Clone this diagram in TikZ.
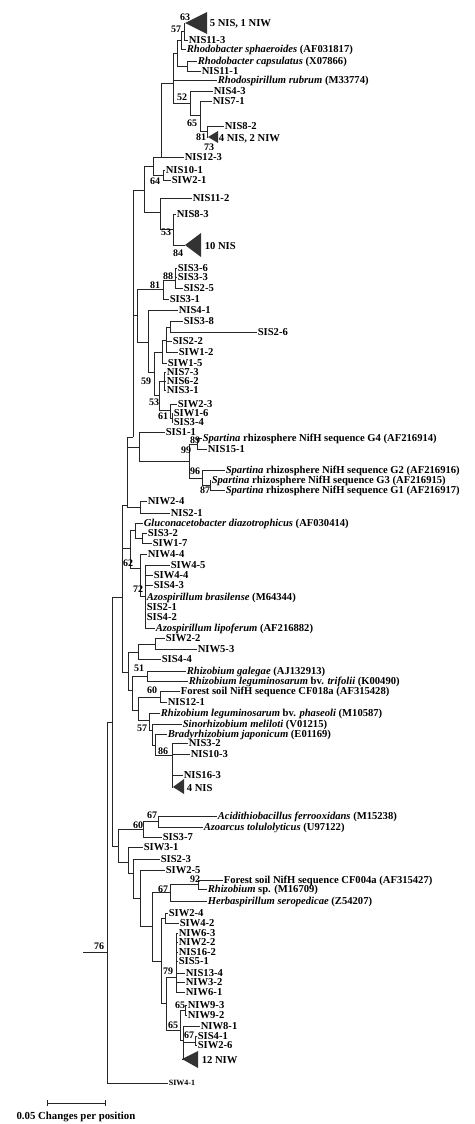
\documentclass[tikz,border=0pt]{standalone}
\usepackage{fontspec}
\setmainfont{Liberation Serif}
\begin{document}
\begin{tikzpicture}[x=1pt,y=-1pt,
 br/.style={draw=black!85, line width=0.75pt},
 lf/.style={anchor=west, inner sep=0.6pt, font=\fontsize{10.6}{11}\selectfont\bfseries, text height=7pt, text depth=0pt},
 bs/.style={inner sep=0pt, font=\fontsize{10}{10}\selectfont\bfseries},
 tri/.style={fill=black!80}]
\fill[white] (0,0) rectangle (474,1124);
\useasboundingbox (0,0) rectangle (474,1124);
% internal nodes
\foreach \n/\x/\y in {n57/184/31, nRS/181/40, nRC/187/66, nV/177/53, nW/173/83, n52/190/103, n65/200/115, n81/207/131,
 nY/161/157, n64/163/175, nAA/153/166, n53/173/229, nBB/160/212, nCC/144/190, n88/175/280, n81b/163/289,
 nHH/170/327, nGG/166/340, nFF/162/352, nII/164/381, n61/172/418, n53b/170/410, nJJ/159/395, nEE/154/372,
 n59/148/342, nDD/137/315, nT/133/437, n89/197/444, n87/210/485, n96/202/478, n99/189/461, nKK/139/447,
 nMM/140/507, nJ/127/505, nNN/142/538, nOO/135/530, n72/145/596, nPP/140/568, n62/130/548, nSW2/155/644,
 nM/138/652, n51/147/676, n60/160/697, n86/172/755, nR/155/745, nQ/152/730, nP/149/720, nO/138/710,
 nN/132/690, nL/128/672, nI/122/597, nA/112/722, n67a/158/821, n60b/143/829, n92/198/884, n67b/170/892,
 nSW24/165/918, n79/176/977, n65a/185/1010, n67c/195/1042, nX/183/1040, n65b/180/1030, nH/166/1003,
 nG/161/961, nF/152/926, nE/140/898, nD/133/873, nC/128/862, nB/118/846, nRoot/107/952, rootend/83/952,
 t5/185/23, t42/208/137, t10/185/245, t4/173/787, t12/182/1059}
 {\coordinate (\n) at (\x,\y);}
% triangles
\fill[tri] (t5) -- (207,12) -- (207,34) -- cycle;
\fill[tri] (t42) -- (218,131) -- (218,143) -- cycle;
\fill[tri] (t10) -- (201,233) -- (201,257) -- cycle;
\fill[tri] (t4) -- (184,779) -- (184,794) -- cycle;
\fill[tri] (t12) -- (198,1051) -- (198,1068) -- cycle;
% leaves
\node[lf] (T5) at (209,23) {5 NIS, 1 NIW};
\node[lf] (L2) at (188,40) {NIS11-3};
\node[lf] (L3) at (186,49) {\textit{Rhodobacter sphaeroides} (AF031817)};
\node[lf] (L4) at (197,61) {\textit{Rhodobacter capsulatus} (X07866)};
\node[lf] (L5) at (201,71) {NIS11-1};
\node[lf] (L6) at (217,80) {\textit{Rhodospirillum rubrum} (M33774)};
\node[lf] (L7) at (213,91) {NIS4-3};
\node[lf] (L8) at (212,101) {NIS7-1};
\node[lf] (L9) at (224,126) {NIS8-2};
\node[lf] (T42) at (218,138) {4 NIS, 2 NIW};
\node[lf] (L11) at (184,157) {NIS12-3};
\node[lf] (L12) at (165,170) {NIS10-1};
\node[lf] (L13) at (171,180) {SIW2-1};
\node[lf] (L14) at (192,198) {NIS11-2};
\node[lf] (L15) at (176,214) {NIS8-3};
\node[lf] (T10) at (204,246) {10 NIS};
\node[lf] (L17) at (177,268) {SIS3-6};
\node[lf] (L18) at (177,277) {SIS3-3};
\node[lf] (L19) at (183,288) {SIS2-5};
\node[lf] (L20) at (169,299) {SIS3-1};
\node[lf] (L21) at (178,310) {NIS4-1};
\node[lf] (L22) at (183,321) {SIS3-8};
\node[lf] (L23) at (257,332) {SIS2-6};
\node[lf] (L24) at (172,341) {SIS2-2};
\node[lf] (L25) at (178,352) {SIW1-2};
\node[lf] (L26) at (167,363) {SIW1-5};
\node[lf] (L27) at (166,372) {NIS7-3};
\node[lf] (L28) at (166,381) {NIS6-2};
\node[lf] (L29) at (166,390) {NIS3-1};
\node[lf] (L30) at (177,404) {SIW2-3};
\node[lf] (L31) at (173,413) {SIW1-6};
\node[lf] (L32) at (173,422) {SIS3-4};
\node[lf] (L33) at (165,432) {SIS1-1};
\node[lf] (L34) at (202,438) {\textit{Spartina} rhizosphere NifH sequence G4 (AF216914)};
\node[lf] (L35) at (207,449) {NIS15-1};
\node[lf] (L36) at (225,470) {\textit{Spartina} rhizosphere NifH sequence G2 (AF216916)};
\node[lf] (L37) at (211,480) {\textit{Spartina} rhizosphere NifH sequence G3 (AF216915)};
\node[lf] (L38) at (225,490) {\textit{Spartina} rhizosphere NifH sequence G1 (AF216917)};
\node[lf] (L39) at (147,501) {NIW2-4};
\node[lf] (L40) at (170,513) {NIS2-1};
\node[lf] (L41) at (143,523) {\textit{Gluconacetobacter diazotrophicus} (AF030414)};
\node[lf] (L42) at (147,533) {SIS3-2};
\node[lf] (L43) at (152,543) {SIW1-7};
\node[lf] (L44) at (147,554) {NIW4-4};
\node[lf] (L45) at (170,565) {SIW4-5};
\node[lf] (L46) at (153,575) {SIW4-4};
\node[lf] (L47) at (153,585) {SIS4-3};
\node[lf] (L48) at (146,597) {\textit{Azospirillum brasilense} (M64344)};
\node[lf] (L49) at (146,607) {SIS2-1};
\node[lf] (L50) at (146,617) {SIS4-2};
\node[lf] (L51) at (155,628) {\textit{Azospirillum lipoferum} (AF216882)};
\node[lf] (L52) at (165,638) {SIW2-2};
\node[lf] (L53) at (197,649) {NIW5-3};
\node[lf] (L54) at (161,659) {SIS4-4};
\node[lf] (L55) at (186,671) {\textit{Rhizobium galegae} (AJ132913)};
\node[lf] (L56) at (188,681) {\textit{Rhizobium leguminosarum} bv. \textit{trifolii} (K00490)};
\node[lf] (L57) at (180,691) {Forest soil NifH sequence CF018a (AF315428)};
\node[lf] (L58) at (167,702) {NIS12-1};
\node[lf] (L59) at (160,713) {\textit{Rhizobium leguminosarum} bv. \textit{phaseoli} (M10587)};
\node[lf] (L60) at (182,724) {\textit{Sinorhizobium meliloti} (V01215)};
\node[lf] (L61) at (167,734) {\textit{Bradyrhizobium japonicum} (E01169)};
\node[lf] (L62) at (188,743) {NIS3-2};
\node[lf] (L63) at (190,754) {NIS10-3};
\node[lf] (L64) at (183,775) {NIS16-3};
\node[lf] (T4) at (186,788) {4 NIS};
\node[lf] (L66) at (217,816) {\textit{Acidithiobacillus ferrooxidans} (M15238)};
\node[lf] (L67) at (203,827) {\textit{Azoarcus tolulolyticus} (U97122)};
\node[lf] (L68) at (162,837) {SIS3-7};
\node[lf] (L69) at (143,847) {SIW3-1};
\node[lf] (L70) at (160,859) {SIS2-3};
\node[lf] (L71) at (165,870) {SIW2-5};
\node[lf] (L72) at (223,880) {Forest soil NifH sequence CF004a (AF315427)};
\node[lf] (L73) at (207,889) {\textit{Rhizobium} sp. (M16709)};
\node[lf] (L74) at (207,901) {\textit{Herbaspirillum seropedicae} (Z54207)};
\node[lf] (L75) at (168,913) {SIW2-4};
\node[lf] (L76) at (179,923) {SIW4-2};
\node[lf] (L77) at (178,933) {NIW6-3};
\node[lf] (L78) at (178,942) {NIW2-2};
\node[lf] (L79) at (178,952) {NIS16-2};
\node[lf] (L80) at (178,961) {SIS5-1};
\node[lf] (L81) at (185,973) {NIS13-4};
\node[lf] (L82) at (185,982) {NIW3-2};
\node[lf] (L83) at (185,992) {NIW6-1};
\node[lf] (L84) at (187,1005) {NIW9-3};
\node[lf] (L85) at (187,1015) {NIW9-2};
\node[lf] (L86) at (200,1026) {NIW8-1};
\node[lf] (L87) at (197,1036) {SIS4-1};
\node[lf] (L88) at (197,1045) {SIW2-6};
\node[lf] (T12) at (201,1060) {12 NIW};
\node[lf, font=\fontsize{8}{8}\selectfont\bfseries, text height=5.5pt] (L90) at (168,1083) {SIW4-1};
% branches
\foreach \p/\c in {n57/t5, n57/L2.west, nRS/n57, nRS/L3.west, nRC/L4.west, nRC/L5.west, nV/nRS, nV/nRC,
 nW/nV, nW/L6.west, nW/n52, n52/L7.west, n52/n65, n65/L8.west, n65/n81, n81/L9.west, n81/t42,
 nY/nW, nY/L11.west, n64/L12.west, n64/L13.west, nAA/nY, nAA/n64, n53/L15.west, n53/t10,
 nBB/L14.west, nBB/n53, nCC/nAA, nCC/nBB, n88/L17.west, n88/L18.west, n88/L19.west, n81b/n88,
 n81b/L20.west, nHH/L22.west, nHH/L23.west, nGG/nHH, nGG/L24.west, nGG/L25.west, nFF/nGG,
 nFF/L26.west, nII/L27.west, nII/L28.west, nII/L29.west, n61/L31.west, n61/L32.west,
 n53b/L30.west, n53b/n61, nJJ/nII, nJJ/n53b, nEE/nFF, nEE/nJJ, n59/L21.west, n59/nEE,
 nDD/n81b, nDD/n59, nT/nCC, nT/nDD, n89/L34.west, n89/L35.west, n87/L37.west, n87/L38.west,
 n96/L36.west, n96/n87, n99/n89, n99/n96, nKK/L33.west, nKK/n99, nMM/L39.west, nMM/L40.west,
 nJ/nT, nJ/nKK, nJ/nMM, nNN/L42.west, nNN/L43.west, nOO/L41.west, nOO/nNN,
 n72/L45.west, n72/L46.west, n72/L47.west, n72/L48.west, n72/L49.west, n72/L50.west, n72/L51.west,
 nPP/L44.west, nPP/n72, n62/nOO, n62/nPP, nSW2/L52.west, nSW2/L53.west, nM/nSW2, nM/L54.west,
 n51/L55.west, n51/L56.west, n60/L57.west, n60/L58.west, n86/L62.west, n86/L63.west,
 n86/L64.west, n86/t4, nR/L61.west, nR/n86, nQ/L60.west, nQ/nR, nP/L59.west, nP/nQ,
 nO/n60, nO/nP, nN/n51, nN/nO, nL/nM, nL/nN, nI/nJ, nI/n62, nI/nL, nA/nI, nA/nB,
 n67a/L66.west, n67a/L67.west, n60b/n67a, n60b/L68.west, n92/L72.west, n92/L73.west,
 n67b/n92, n67b/L74.west, nSW24/L75.west, nSW24/L76.west, n79/L77.west, n79/L78.west,
 n79/L79.west, n79/L80.west, n79/L81.west, n79/L82.west, n79/L83.west, n65a/L84.west,
 n65a/L85.west, n67c/L87.west, n67c/L88.west, nX/L86.west, nX/n67c, nX/t12, n65b/n65a,
 n65b/nX, nH/n79, nH/n65b, nG/nSW24, nG/nH, nF/n67b, nF/nG, nE/L71.west, nE/nF,
 nD/L70.west, nD/nE, nC/L69.west, nC/nD, nB/n60b, nB/nC, nRoot/nA, nRoot/L90.west, rootend/nRoot}
 {\draw[br] (\p) |- (\c);}
% bootstrap values
\foreach \n/\x/\y/\v in {b1/185/17/63, b2/176/29/57, b3/182/97/52, b4/192/123/65, b5/201/137/81, b6/209/147/73,
 b7/155/181/64, b8/166/232/53, b9/178/253/84, b10/168/276/88, b11/155/285/81, b12/146/381/59,
 b13/154/402/53, b14/163/416/61, b15/195/440.5/89, b16/186/450/99, b17/195/471/96, b18/205/490/87,
 b19/128/563/62, b20/138/589/72, b21/139/668/51, b22/152/690/60, b23/142/728/57, b24/163/751/86,
 b25/152/815/67, b26/138/825/60, b27/195/879/92, b28/163/889/67, b29/168/971/79, b30/180/1005/65,
 b31/173/1025/65, b32/189/1035/67, b33/99/946/76}
 {\node[bs] (\n) at (\x,\y) {\v};}
% scale bar
\coordinate (sb1) at (47,1103);
\coordinate (sb2) at (105,1103);
\draw[br] (sb1) -- (sb2);
\draw[br] ([yshift=3pt]sb1) -- ([yshift=-3pt]sb1);
\draw[br] ([yshift=3pt]sb2) -- ([yshift=-3pt]sb2);
\node[font=\fontsize{10.8}{11}\selectfont\bfseries, inner sep=0pt] (sbl) at (76,1117) {0.05 Changes per position};
\end{tikzpicture}
\end{document}
